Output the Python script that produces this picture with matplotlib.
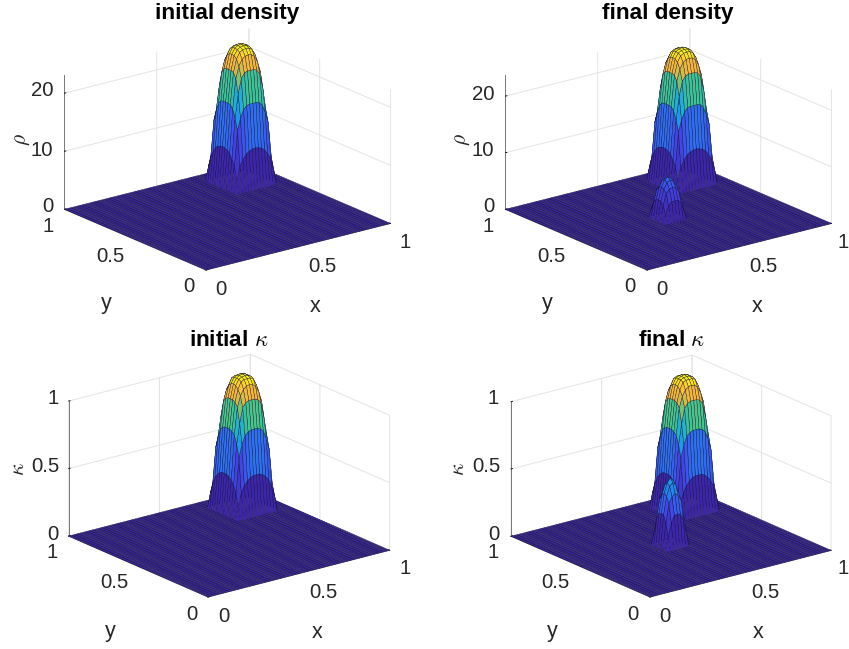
import numpy as np
import matplotlib
matplotlib.use("Agg")
import matplotlib.pyplot as plt
from matplotlib.colors import LinearSegmentedColormap
from mpl_toolkits.mplot3d import proj3d

plt.rcParams["font.family"] = ["Liberation Sans", "DejaVu Sans"]
plt.rcParams["mathtext.fontset"] = "cm"

W, H = 849, 649
TEXT = "#262626"

# quadrant tables of the towers, rim of the tower first, centre node last
big_rho = [
    [0.0, 0.0, 0.0, 0.0, 0.0, 0.0, 0.0, 0.0],
    [0.0, 2.5, 4.5, 5.5, 6.3, 6.7, 6.9, 7.0],
    [0.0, 4.5, 10.5, 12.5, 13.8, 14.4, 14.5, 14.5],
    [0.0, 5.5, 12.5, 16.5, 19.0, 19.8, 20.0, 20.0],
    [0.0, 6.3, 13.8, 19.0, 21.0, 22.0, 22.4, 22.5],
    [0.0, 6.7, 14.4, 19.8, 22.0, 23.0, 23.3, 23.4],
    [0.0, 6.9, 14.5, 20.0, 22.4, 23.3, 23.6, 23.7],
    [0.0, 7.0, 14.5, 20.0, 22.5, 23.4, 23.7, 23.8],
]
small_rho = [
    [0.0, 0.0, 0.0, 0.0, 0.0],
    [0.0, 1.5, 3.0, 3.6, 3.6],
    [0.0, 3.0, 5.0, 5.6, 5.8],
    [0.0, 3.6, 5.6, 6.6, 6.9],
    [0.0, 3.6, 5.8, 6.9, 7.3],
]
big_kappa = [
    [0.0, 0.0, 0.0, 0.0, 0.0, 0.0, 0.0, 0.0],
    [0.0, 0.11, 0.19, 0.24, 0.27, 0.29, 0.30, 0.30],
    [0.0, 0.19, 0.45, 0.54, 0.60, 0.62, 0.63, 0.63],
    [0.0, 0.24, 0.54, 0.69, 0.80, 0.83, 0.84, 0.84],
    [0.0, 0.27, 0.60, 0.80, 0.88, 0.92, 0.94, 0.945],
    [0.0, 0.29, 0.62, 0.83, 0.92, 0.97, 0.98, 0.98],
    [0.0, 0.30, 0.63, 0.84, 0.94, 0.98, 0.99, 0.995],
    [0.0, 0.30, 0.63, 0.84, 0.945, 0.98, 0.995, 1.0],
]
small_kappa = [
    [0.0, 0.0, 0.0, 0.0, 0.0],
    [0.0, 0.10, 0.20, 0.25, 0.25],
    [0.0, 0.20, 0.34, 0.38, 0.40],
    [0.0, 0.25, 0.38, 0.45, 0.47],
    [0.0, 0.25, 0.40, 0.47, 0.50],
]

titles = ["initial density", "final density", r"initial $\kappa$", r"final $\kappa$"]
zlabels = [r"$\rho$", r"$\rho$", r"$\kappa$", r"$\kappa$"]
xy_ticks = [0, 0.5, 1]
xy_ticklabels = ["0", "0.5", "1"]
rho_ticks = [0, 10, 20]
rho_ticklabels = ["0", "10", "20"]
kappa_ticks = [0, 0.5, 1]
kappa_ticklabels = ["0", "0.5", "1"]

# layout of each panel, in pixels from the top left of the picture
fronts = [(206, 270), (647, 270), (208, 597), (650, 597)]
spans = [326, 326, 321, 320]
elevs = [19.2, 19.2, 19.6, 19.6]
heights = [0.611, 0.611, 0.626, 0.626]
zmaxes = [23.1, 23.7, 1.0, 1.0]
title_pos = [(227, 13), (668, 13), (229, 340), (671, 340)]
xtick_pos = [[(221, 289), (322, 266), (405, 242)], [(662, 289), (763, 266), (843, 242)],
             [(224, 617), (323, 593), (405, 569)], [(665, 617), (765, 593), (843, 569)]]
ytick_pos = [[(189, 287), (110, 257), (48, 226)], [(630, 287), (551, 257), (488, 226)],
             [(192, 615), (114, 583), (52, 553)], [(633, 615), (555, 583), (493, 553)]]
ztick_pos = [[(48, 207), (42, 150), (42, 91)], [(489, 207), (483, 151), (483, 95)],
             [(53, 534), (45, 467), (53, 399)], [(494, 534), (486, 467), (493, 399)]]
xlabel_pos = [(315, 307), (757, 307), (317, 633), (758, 633)]
ylabel_pos = [(106, 304), (547, 304), (110, 631), (552, 631)]
zlabel_pos = [(21, 140), (462, 140), (19, 469), (459, 469)]

# parula stops, moved so the rings of the towers pick up the bands of the figure
parula = LinearSegmentedColormap.from_list("parula", [
    (0.00, (0.2422, 0.1504, 0.6603)), (0.20, (0.2600, 0.2800, 0.9000)),
    (0.30, (0.1800, 0.4500, 0.9500)), (0.50, (0.1000, 0.6500, 0.9000)),
    (0.62, (0.2500, 0.7800, 0.5500)), (0.84, (0.9600, 0.7200, 0.2300)),
    (0.92, (0.9900, 0.8000, 0.2000)), (0.945, (0.9800, 0.9000, 0.1000)),
    (1.00, (0.9769, 0.9839, 0.0805)),
])


def mirror(quadrant):
    q = np.array(quadrant)
    return np.block([[q, q[:, -2::-1]], [q[-2::-1, :], q[-2::-1, -2::-1]]])


def surface(big, small=None):
    z = np.zeros((61, 61))
    z[42:57, 42:57] = mirror(big)
    if small is not None:
        z[25:34, 25:34] = mirror(small)
    return z


def corner(ax, x, y, z):
    xs, ys, _ = proj3d.proj_transform(x, y, z, ax.get_proj())
    return ax.transData.transform((xs, ys))


def fit_axes(ax, front, span):
    # front = pixel of the (0,0,0) corner, span = pixels from left to right corner
    side = 500.0
    left, bottom = 100.0, 100.0
    for _ in range(3):
        ax.set_position([left / W, bottom / H, side / W, side / H])
        ax.apply_aspect()
        a = corner(ax, 0, 1, 0)
        b = corner(ax, 1, 0, 0)
        side *= span / (b[0] - a[0])
        ax.set_position([left / W, bottom / H, side / W, side / H])
        ax.apply_aspect()
        p = corner(ax, 0, 0, 0)
        left += front[0] - p[0]
        bottom += (H - front[1]) - p[1]
    ax.set_position([left / W, bottom / H, side / W, side / H])
    ax.apply_aspect()


def put(text, pos, size=14.7, **kwargs):
    fig.text(pos[0] / W, 1 - pos[1] / H, text, fontsize=size, color=kwargs.pop("color", TEXT),
             ha="center", va="center", **kwargs)


fig = plt.figure(figsize=(W / 100, H / 100), dpi=100)

surfaces = [surface(big_rho), surface(big_rho, small_rho),
            surface(big_kappa), surface(big_kappa, small_kappa)]
grid = np.linspace(0, 1, 61)
X, Y = np.meshgrid(grid, grid)

for i in range(4):
    ax = fig.add_subplot(2, 2, i + 1, projection="3d", proj_type="ortho")
    ax.patch.set_visible(False)
    ax.view_init(elev=elevs[i], azim=-127.5)
    ax.set_box_aspect((1, 1, heights[i]))
    Z = surfaces[i]
    colors = parula(Z / Z.max())
    ax.plot_surface(X, Y, Z, rstride=1, cstride=1, facecolors=colors, shade=False,
                    edgecolor="#15103a", linewidth=0.25, antialiased=True)
    ax.set_xlim(0, 1, view_margin=0)
    ax.set_ylim(0, 1, view_margin=0)
    ax.set_zlim(0, zmaxes[i], view_margin=0)
    ax.set_xticks(xy_ticks, [""] * 3)
    ax.set_yticks(xy_ticks, [""] * 3)
    zticks = rho_ticks if i < 2 else kappa_ticks
    zticklabels = rho_ticklabels if i < 2 else kappa_ticklabels
    ax.set_zticks(zticks, [""] * 3)
    for axis in (ax.xaxis, ax.yaxis, ax.zaxis):
        axis.set_pane_color((1, 1, 1, 1))
        axis.pane.set_edgecolor((1, 1, 1, 0))
        axis.line.set_color("#777777")
        axis.line.set_linewidth(0.7)
        axis._axinfo["grid"].update(color="#e4e4e4", linewidth=0.7)
        axis._axinfo["tick"].update(inward_factor=0.0, outward_factor=0.1,
                                    linewidth={True: 0.6, False: 0.6}, color="#777777")
    fit_axes(ax, fronts[i], spans[i])

    for label, pos in zip(xy_ticklabels, xtick_pos[i]):
        put(label, pos)
    for label, pos in zip(xy_ticklabels, ytick_pos[i]):
        put(label, pos)
    for label, pos in zip(zticklabels, ztick_pos[i]):
        put(label, pos)
    put("x", xlabel_pos[i], size=15.5)
    put("y", ylabel_pos[i], size=15.5)
    put(zlabels[i], zlabel_pos[i], size=15.5, rotation=90)
    put(titles[i], title_pos[i], size=16.2, fontweight="bold", color="black")

fig.savefig("out.png", dpi=100)
